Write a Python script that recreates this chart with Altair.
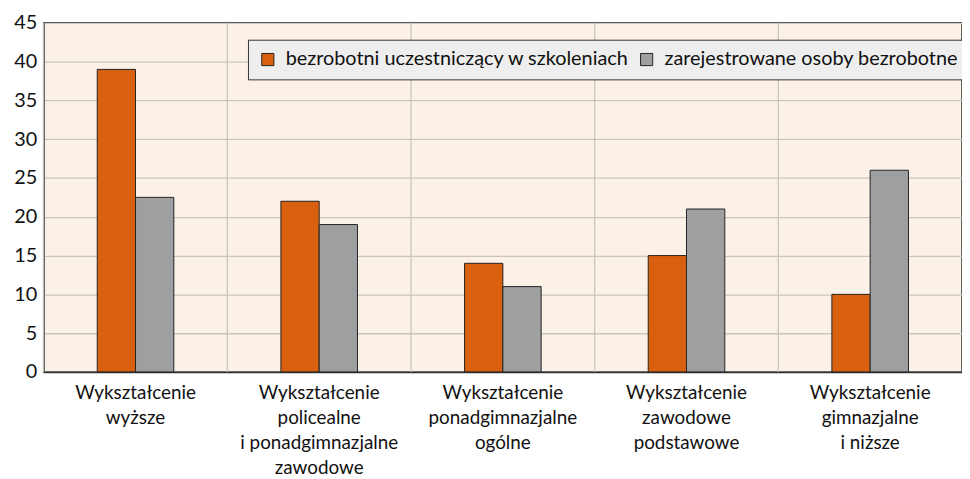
import altair as alt
import pandas as pd

categories = [
    "Wykształcenie|wyższe",
    "Wykształcenie|policealne|i ponadgimnazjalne|zawodowe",
    "Wykształcenie|ponadgimnazjalne|ogólne",
    "Wykształcenie|zawodowe|podstawowe",
    "Wykształcenie|gimnazjalne|i niższe",
]
series = ["bezrobotni uczestniczący w szkoleniach", "zarejestrowane osoby bezrobotne"]
vals_training = [39, 22, 14, 15, 10]
vals_registered = [22.5, 19, 11, 21, 26]
colors = ["#D9600E", "#9D9FA1"]

rows = []
for c, a, b in zip(categories, vals_training, vals_registered):
    rows.append({"cat": c, "series": series[0], "value": a})
    rows.append({"cat": c, "series": series[1], "value": b})
df = pd.DataFrame(rows)
cat_df = pd.DataFrame({"cat": categories})

FONT = "Lato"
FS = 20
W = 926
H = 352
band = W / len(categories)
bar_w = band * 0.2085

xscale = alt.Scale(domain=categories, paddingInner=0, paddingOuter=0)

bars = alt.Chart(df).mark_bar(stroke="#222222", strokeWidth=1).encode(
    x=alt.X("cat:N", scale=xscale, sort=categories, title=None,
            axis=alt.Axis(labelExpr="split(datum.label, '|')", labelAngle=0,
                          labelAlign="center",
                          labelFontSize=19, labelLineHeight=25, labelPadding=12,
                          ticks=False, domainColor="#333333", domainWidth=1.5,
                          labelColor="#111111", labelFont=FONT, grid=False,
                          labelBaseline="top")),
    xOffset=alt.XOffset("series:N", sort=series,
                        scale=alt.Scale(domain=series, paddingInner=0, paddingOuter=0,
                                        range=[band / 2 - bar_w, band / 2 + bar_w])),
    y=alt.Y("value:Q", scale=alt.Scale(domain=[0, 45], nice=False), title=None,
            axis=alt.Axis(values=list(range(0, 46, 5)), ticks=False, labelFontSize=FS,
                          labelFont=FONT, labelColor="#111111", labelPadding=7,
                          domainColor="#333333", domainWidth=1.5,
                          gridColor="#C9C5C1", gridWidth=1.3)),
    color=alt.Color("series:N", sort=series, scale=alt.Scale(domain=series, range=colors),
                    legend=alt.Legend(title=None, orient="none", legendX=206, legendY=17,
                                      direction="horizontal", symbolType="square",
                                      symbolSize=150, symbolStrokeColor="#222222",
                                      symbolStrokeWidth=1, labelFontSize=FS, labelFont=FONT,
                                      labelColor="#111111", fillColor="#EEEEEE",
                                      strokeColor="#333333", padding=10,
                                      columnPadding=7, labelOffset=8,
                                      labelLimit=500, symbolOpacity=1)),
)

vrules = alt.Chart(cat_df).mark_rule(color="#C9C5C1", strokeWidth=1.3).encode(
    x=alt.X("cat:N", scale=xscale, sort=categories, bandPosition=0)
)

chart = alt.layer(vrules, bars).properties(
    width=W, height=H,
    autosize=alt.AutoSizeParams(type="none"),
    padding={"left": 36, "top": 13, "right": 0, "bottom": 106},
).configure_view(
    fill="#FCF1E7", stroke="#333333", strokeWidth=1.5
)

chart.save("out.html", embed_options={"renderer": "svg", "actions": False})
